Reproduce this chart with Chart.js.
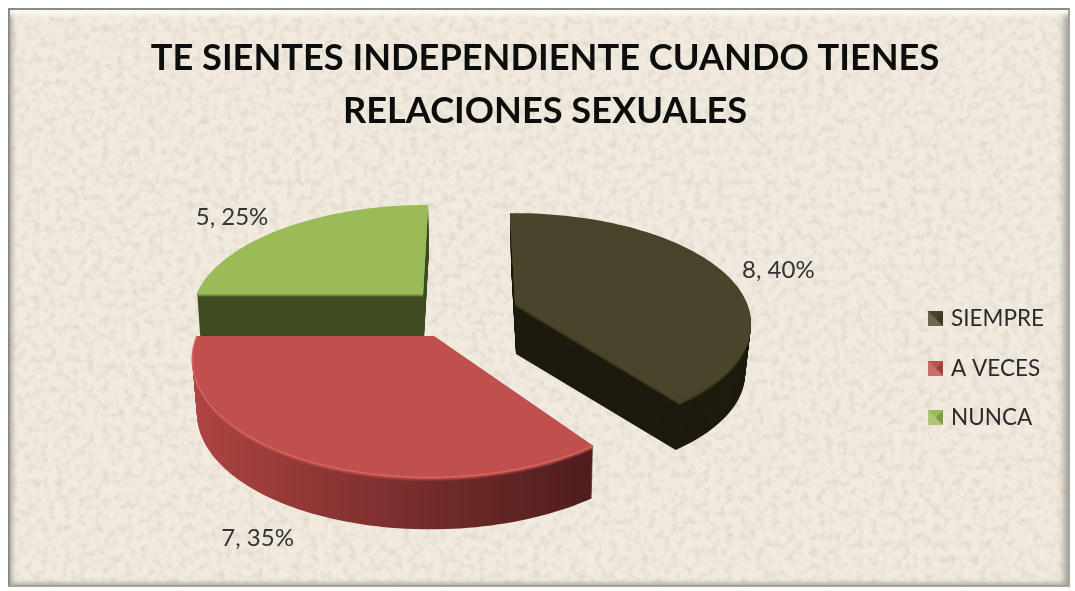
<!DOCTYPE html>
<html>
<head>
<meta charset="utf-8">
<title>Independencia</title>
<script src="https://cdn.jsdelivr.net/npm/chart.js@4"></script>
<style>
  html, body { margin: 0; padding: 0; background: #fff; }
  #marco {
    position: absolute; left: 8px; top: 8px; width: 1058px; height: 575px;
    border: 2px solid #8d8b85; border-right-color: #a5a39c; border-bottom-color: #a5a39c;
    background-color: #f0eadf;
    background-image: url("data:image/svg+xml,%3Csvg xmlns='http://www.w3.org/2000/svg' width='1075' height='591'%3E%3Cfilter id='n' x='0' y='0' width='100%25' height='100%25'%3E%3CfeTurbulence type='fractalNoise' baseFrequency='.13' numOctaves='4' seed='7'/%3E%3CfeColorMatrix values='0 0 0 0 .72 0 0 0 0 .66 0 0 0 0 .56 0 0 0 1.9 -.85'/%3E%3C/filter%3E%3Crect width='1075' height='591' filter='url(%23n)'/%3E%3C/svg%3E");
    box-shadow: inset 0 9px 5px -4px #fbf9f3, inset 6px 0 5px -4px #a8a59b, inset -8px 0 6px -4px #a5a298, inset 0 -6px 5px -4px #b0ada2;
  }
  canvas { position: absolute; left: 0; top: 0; }
</style>
</head>
<body>
<div id="marco"></div>
<canvas id="grafico" width="1075" height="591"></canvas>
<script>
// Datos
const categorias = ['SIEMPRE', 'A VECES', 'NUNCA'];
const valores = [8, 7, 5];
const porcentajes = [40, 35, 25];

const coloresCara = ['#4a452a', '#c0504d', '#9bbb59'];
const coloresLado = ['#1d1b0e', '#7a2e2d', '#3f4c22'];
const coloresBrillo = ['#5e5638', '#d8645f', '#a6c468'];

// Proyeccion de cada porcion: vertice, ejes U y V, perspectiva y grosor
const vertices = [[515, 303], [434, 336], [423, 293]];
const ejesU = [[231, -2], [237, 0], [226, 0]];
const ejesV = [[-6, -106], [4, -116], [6, -104]];
const perspectiva = 0.18;
const grosores = [51, 54, 46];
const escalaFondo = [0.03, 0.015, 0.01];
const desplazaEtiqueta = [[57, 0], [-44, 79], [-53, -10]];
const ordenDibujo = [2, 0, 1];

function proyectar(i, angulo, r, prof) {
  const u = Math.sin(angulo) * r, v = Math.cos(angulo) * r;
  const w = 1 + perspectiva * v;
  const esc = 1 - escalaFondo[i] * prof / grosores[i];
  return [
    vertices[i][0] + (ejesU[i][0] * u + ejesV[i][0] * v) / w * esc + prof * 0.02,
    vertices[i][1] + (ejesU[i][1] * u + ejesV[i][1] * v) / w * esc + prof
  ];
}

function trazar(ctx, i, arco, prof) {
  ctx.beginPath();
  const a0 = arco.startAngle + Math.PI / 2, a1 = arco.endAngle + Math.PI / 2;
  const p0 = proyectar(i, 0, 0, prof);
  ctx.moveTo(p0[0], p0[1]);
  for (let k = 0; k <= 80; k++) {
    const p = proyectar(i, a0 + (a1 - a0) * k / 80, 1, prof);
    ctx.lineTo(p[0], p[1]);
  }
  ctx.closePath();
}

function colorLado(ctx, i, arco) {
  if (i !== 1) return coloresLado[i];
  // solo el rojo tiene degradado visible en el lado
  const g = ctx.createLinearGradient(195, 0, 593, 0);
  g.addColorStop(0, '#ad4442');
  g.addColorStop(0.35, '#8a3533');
  g.addColorStop(0.65, '#6d2a29');
  g.addColorStop(1, '#4f1d1c');
  return g;
}

const pastel3d = {
  id: 'pastel3d',
  beforeDatasetDraw(chart) {
    const ctx = chart.ctx;
    const arcos = chart.getDatasetMeta(0).data;
    ctx.save();
    ordenDibujo.forEach(i => {
      const arco = arcos[i];
      ctx.fillStyle = colorLado(ctx, i, arco);
      for (let d = grosores[i]; d > 0; d--) {
        trazar(ctx, i, arco, d);
        ctx.fill();
      }
      // bisel entre lado y cara
      ctx.fillStyle = coloresCara[i];
      for (let d = 4; d > 0; d--) {
        ctx.globalAlpha = 1 - d / 5;
        trazar(ctx, i, arco, d);
        ctx.fill();
      }
      ctx.globalAlpha = 1;
      trazar(ctx, i, arco, 0);
      ctx.fill();
      if (i === 1) {
        ctx.strokeStyle = coloresBrillo[i];
        ctx.lineWidth = 1.5;
        ctx.beginPath();
        for (let k = 0; k <= 80; k++) {
          const a = arco.startAngle + Math.PI / 2 + (arco.endAngle - arco.startAngle) * k / 80;
          const p = proyectar(i, a, 1, 0);
          ctx.lineTo(p[0], p[1]);
        }
        ctx.stroke();
      }
    });
    // etiquetas de datos
    ctx.font = '24px Lato';
    ctx.fillStyle = '#333333';
    ctx.textAlign = 'center';
    ctx.textBaseline = 'middle';
    arcos.forEach((arco, i) => {
      const medio = (arco.startAngle + arco.endAngle) / 2 + Math.PI / 2;
      const p = proyectar(i, medio, 1, 0);
      ctx.fillText(valores[i] + ', ' + porcentajes[i] + '%', p[0] + desplazaEtiqueta[i][0], p[1] + desplazaEtiqueta[i][1]);
    });
    ctx.restore();
    return false; // el dibujo normal del pie no hace falta
  }
};

// cuadrito biselado de la leyenda
function cuadrito(i) {
  const c = document.createElement('canvas');
  c.width = 15; c.height = 15;
  const x = c.getContext('2d');
  x.fillStyle = coloresCara[i];
  x.fillRect(0, 0, 15, 15);
  x.fillStyle = 'rgba(255,255,255,0.18)';
  x.beginPath(); x.moveTo(0, 15); x.lineTo(0, 0); x.lineTo(7.5, 7.5); x.lineTo(15, 15); x.fill();
  x.fillStyle = 'rgba(0,0,0,0.18)';
  x.beginPath(); x.moveTo(15, 0); x.lineTo(15, 15); x.lineTo(7.5, 7.5); x.fill();
  return c;
}

new Chart(document.getElementById('grafico').getContext('2d'), {
  type: 'pie',
  data: {
    labels: categorias,
    datasets: [{ data: valores, backgroundColor: coloresCara }]
  },
  options: {
    responsive: false,
    animation: false,
    layout: { padding: { left: 36, right: 21, top: 0, bottom: 135 } },
    plugins: {
      tooltip: { enabled: false },
      title: {
        display: true,
        text: ['TE SIENTES INDEPENDIENTE CUANDO TIENES', 'RELACIONES SEXUALES'],
        color: '#0d0d0d',
        font: { family: 'Lato', size: 36.2, weight: 'bold', lineHeight: 1.46 },
        padding: { top: 32, bottom: 10 }
      },
      legend: {
        position: 'right',
        align: 'end',
        labels: {
          color: '#2b2b2b',
          font: { family: 'Lato', size: 22.5 },
          padding: 27,
          usePointStyle: true,
          pointStyleWidth: 8,
          generateLabels(chart) {
            return categorias.map((c, i) => ({
              text: c,
              fontColor: '#2b2b2b',
              pointStyle: cuadrito(i),
              lineWidth: 0,
              index: i
            }));
          }
        }
      }
    }
  },
  plugins: [pastel3d]
});
</script>
</body>
</html>
